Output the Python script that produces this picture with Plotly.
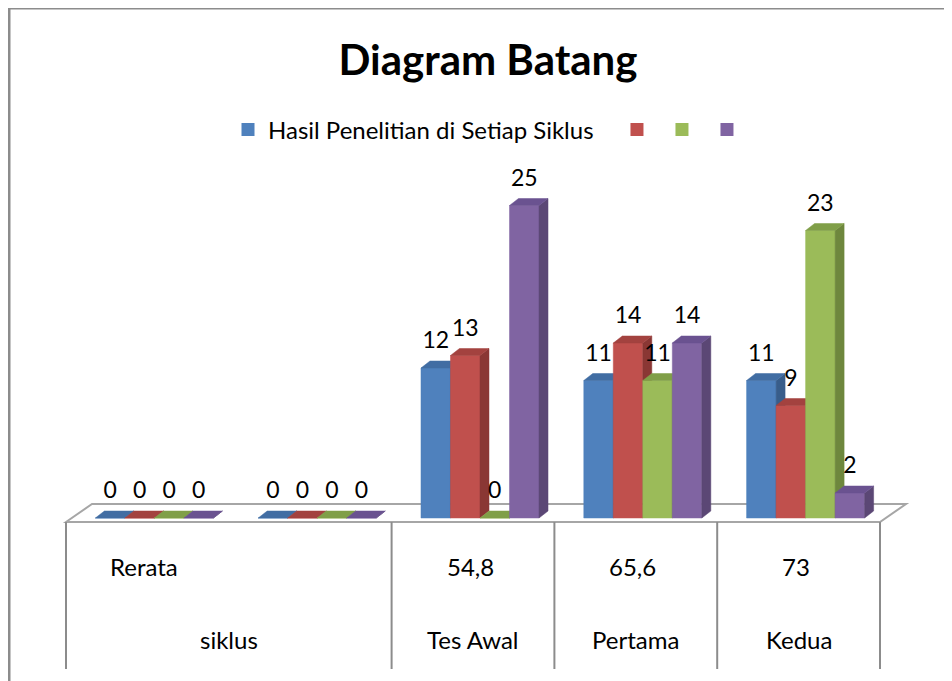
import plotly.graph_objects as go

# ---------------- data ----------------
outer_labels = ["siklus", "siklus", "Tes Awal", "Pertama", "Kedua"]
inner_labels = ["Rerata", "", "54,8", "65,6", "73"]
series_names = ["Hasil Penelitian di Setiap Siklus", "", "", ""]
series_1 = [0, 0, 12, 11, 11]
series_2 = [0, 0, 13, 14, 9]
series_3 = [0, 0, 0, 11, 23]
series_4 = [0, 0, 25, 14, 2]
series_values = [series_1, series_2, series_3, series_4]

# ---------------- style ----------------
colors_front = ["#4F81BD", "#C0504D", "#9BBB59", "#8064A2"]
colors_side = ["#385D8A", "#8A3734", "#6E873D", "#5B4775"]
colors_top = ["#416DA3", "#A3423F", "#809F48", "#6A5290"]
FONT = "Lato"
PAGE_OFF = 8                 # default body margin of the html page
W, H = 952 - PAGE_OFF, 681 - PAGE_OFF

n_cat = len(outer_labels)
plot_left_px, slot_px = 73.0, 162.8
plot_top_px, plot_bottom_px = 130.0, 522.0
y_min, y_max = -0.32, 31.04
px_per_unit = (plot_bottom_px - plot_top_px) / (y_max - y_min)

group_w = 0.725
bar_w = group_w / len(series_values)
dx = 9.0 / slot_px          # 3D depth in x data units
dy = 7.0 / px_per_unit      # 3D depth in y data units


def px_x(px):
    return (px - PAGE_OFF) / W


def px_y(py):
    return 1 - (py - PAGE_OFF) / H


fig = go.Figure()

for i, vals in enumerate(series_values):
    fx, fy, sx, sy, tx, ty = [], [], [], [], [], []
    for j, v in enumerate(vals):
        x0 = j - group_w / 2 + i * bar_w
        x1 = x0 + bar_w
        fx += [x0, x1, x1, x0, x0, None]
        fy += [0, 0, v, v, 0, None]
        sx += [x1, x1 + dx, x1 + dx, x1, x1, None]
        sy += [0, dy, v + dy, v, 0, None]
        tx += [x0, x1, x1 + dx, x0 + dx, x0, None]
        ty += [v, v, v + dy, v + dy, v, None]
    for xs, ys, col in ((fx, fy, colors_front[i]), (sx, sy, colors_side[i]), (tx, ty, colors_top[i])):
        fig.add_trace(go.Scatter(x=xs, y=ys, mode="lines", fill="toself", fillcolor=col,
                                 line=dict(color=col, width=0.5), showlegend=False,
                                 hoverinfo="skip"))

# data labels
for i, vals in enumerate(series_values):
    xs = [j - group_w / 2 + (i + 0.5) * bar_w for j in range(n_cat)]
    ys = [v + dy + 0.55 for v in vals]
    fig.add_trace(go.Scatter(x=xs, y=ys, mode="text", text=[str(v) for v in vals],
                             textposition="top center",
                             textfont=dict(family=FONT, size=23, color="#000000"),
                             showlegend=False, hoverinfo="skip"))

# legend entries
for i, name in enumerate(series_names):
    label = (name + "\u00a0" * 3) if name else "\u200b"
    fig.add_trace(go.Scatter(x=[None], y=[None], mode="markers",
                             marker=dict(symbol="square", size=13, color=colors_front[i]),
                             name=label, showlegend=True))

# ---------------- decorations: frame, floor, category table ----------------
shapes = []
line_col = "#8C8C8C"
# chart frame
shapes.append(dict(type="line", xref="paper", yref="paper", x0=px_x(9), x1=px_x(9),
                   y0=px_y(7), y1=px_y(690), line=dict(color=line_col, width=3)))
shapes.append(dict(type="line", xref="paper", yref="paper", x0=px_x(9), x1=px_x(960),
                   y0=px_y(8), y1=px_y(8), line=dict(color=line_col, width=3)))

table_left_px = 66.0
table_right_px = table_left_px + n_cat * slot_px
floor_path = "M {} {} L {} {} L {} {} L {} {} Z".format(
    px_x(table_left_px), px_y(522), px_x(table_left_px + 26), px_y(504),
    px_x(table_right_px + 26), px_y(504), px_x(table_right_px), px_y(522))
shapes.append(dict(type="path", xref="paper", yref="paper", path=floor_path,
                   fillcolor="#FFFFFF", line=dict(color="#A6A6A6", width=2), layer="below"))

# vertical separators: between outer groups
boundaries = [0]
for j in range(1, n_cat):
    if outer_labels[j] != outer_labels[j - 1]:
        boundaries.append(j)
boundaries.append(n_cat)
for k in boundaries:
    xp = px_x(table_left_px + k * slot_px)
    shapes.append(dict(type="line", xref="paper", yref="paper", x0=xp, x1=xp,
                       y0=px_y(522), y1=px_y(669), line=dict(color=line_col, width=2)))

annotations = []
for j, lab in enumerate(inner_labels):
    if lab:
        annotations.append(dict(xref="paper", yref="paper",
                                x=px_x(table_left_px + (j + 0.5) * slot_px - 3), y=px_y(566),
                                text=lab, showarrow=False, xanchor="center", yanchor="middle",
                                font=dict(family=FONT, size=24, color="#000000")))
for a, b in zip(boundaries[:-1], boundaries[1:]):
    annotations.append(dict(xref="paper", yref="paper",
                            x=px_x(table_left_px + (a + b) / 2 * slot_px), y=px_y(639),
                            text=outer_labels[a], showarrow=False, xanchor="center",
                            yanchor="middle", font=dict(family=FONT, size=24, color="#000000")))

fig.update_layout(
    width=W, height=H,
    margin=dict(l=0, r=0, t=0, b=0, pad=0),
    paper_bgcolor="#FFFFFF", plot_bgcolor="rgba(0,0,0,0)",
    title=dict(text="<b>Diagram Batang</b>", x=px_x(488), xanchor="center",
               y=px_y(60), yanchor="middle", yref="paper",
               font=dict(family=FONT, size=42, color="#000000")),
    legend=dict(orientation="h", x=px_x(490), xanchor="center", y=px_y(130), yanchor="middle",
                font=dict(family=FONT, size=24, color="#000000"), bgcolor="rgba(0,0,0,0)",
                itemclick=False),
    xaxis=dict(domain=[px_x(plot_left_px), px_x(plot_left_px + n_cat * slot_px)],
               range=[-0.5, n_cat - 0.5], visible=False, fixedrange=True),
    yaxis=dict(domain=[px_y(plot_bottom_px), px_y(plot_top_px)],
               range=[y_min, y_max], visible=False, fixedrange=True),
    shapes=shapes, annotations=annotations,
    showlegend=True,
)

fig.write_html("out.html")
